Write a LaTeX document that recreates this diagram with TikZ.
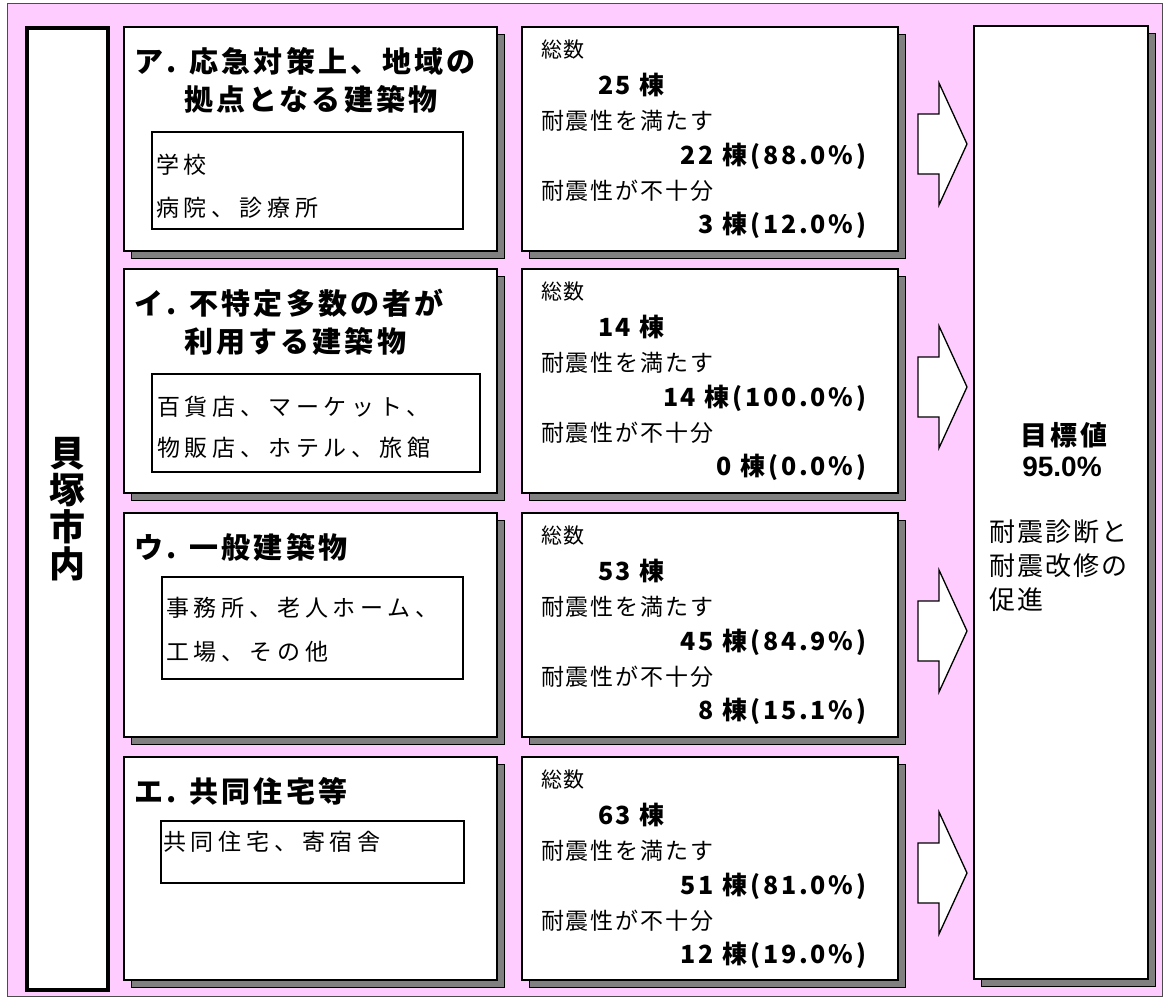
\documentclass[tikz,border=0pt]{standalone}
\usepackage{fontspec}
\setmainfont{Noto Sans CJK JP}
\newfontfamily\ttlfont[LetterSpace=11]{Noto Sans CJK JP}
\newfontfamily\bodyfont[LetterSpace=21]{Noto Sans CJK JP}
\newfontfamily\datafont[LetterSpace=8]{Noto Sans CJK JP}
\newfontfamily\smallfont[LetterSpace=5]{Noto Sans CJK JP}
\newfontfamily\numfont[LetterSpace=11]{Noto Sans CJK JP}
\newfontfamily\goalfont[LetterSpace=12]{Noto Sans CJK JP}
\newfontfamily\notefont[LetterSpace=8]{Noto Sans CJK JP}
\newfontfamily\arialfont{Liberation Sans}
\definecolor{bgpink}{RGB}{255,204,255}
\definecolor{shgray}{RGB}{128,128,128}
\newcommand\shadowed[5]{%
  \node[shd, minimum width=#4, minimum height=#5] (#1s) at (#2+7,#3+7) {};
  \node[box, minimum width=#4, minimum height=#5] (#1) at (#2,#3) {};
}
\begin{document}
\begin{tikzpicture}[x=1pt,y=-1pt,
  every node/.style={inner sep=0pt, outer sep=0pt},
  box/.style={draw=black, line width=1.3pt, fill=white, anchor=north west},
  shd/.style={draw=black, line width=0.8pt, fill=shgray, anchor=north west},
  inbox/.style={draw=black, line width=1.3pt, fill=white, anchor=north west},
  ttl/.style={anchor=west, font=\ttlfont\bfseries\fontsize{29}{29}\selectfont},
  body/.style={anchor=west, font=\bodyfont\fontsize{23}{23}\selectfont},
  dl/.style={anchor=west, font=\smallfont\fontsize{21}{21}\selectfont},
  dt/.style={anchor=west, font=\datafont\fontsize{23}{23}\selectfont},
  dn/.style={anchor=west, font=\numfont\bfseries\fontsize{25}{25}\selectfont},
  dr/.style={anchor=east, font=\numfont\bfseries\fontsize{25}{25}\selectfont},
  note/.style={anchor=west, font=\notefont\fontsize{26}{26}\selectfont},
  blk/.style={draw=black, line width=1.3pt, fill=white, line join=miter}
]
\useasboundingbox (0,0) rectangle (1165,998);
% background
\node[draw=black!70, line width=1pt, fill=bgpink, anchor=north west,
  minimum width=1155, minimum height=992] (bg) at (7,4) {};
% left box
\node[draw=black, line width=3.5pt, fill=white, anchor=north west,
  minimum width=81, minimum height=962] (city) at (27,28) {};
\node[align=center, font=\bfseries\fontsize{36}{37}\selectfont] (citytxt) at (67,509) {貝\\塚\\市\\内};
% category boxes
\shadowed{catA}{124}{27}{373}{224}
\shadowed{catI}{124}{269}{373}{224}
\shadowed{catU}{124}{513}{373}{224}
\shadowed{catE}{124}{757}{373}{223}
% data boxes
\shadowed{datA}{522}{27}{376}{224}
\shadowed{datI}{522}{269}{376}{224}
\shadowed{datU}{522}{513}{376}{224}
\shadowed{datE}{522}{757}{376}{223}
% goal box
\shadowed{goal}{974}{26}{174}{953}
% arrows
\foreach \c [count=\i] in {144,387,631,873}{
  \draw[blk] (918,\c-30) -- (939,\c-30) -- (939,\c-61) -- (967,\c)
     -- (939,\c+61) -- (939,\c+30) -- (918,\c+30) -- cycle;
}
% category A
\node[ttl] (tA1) at (134,61) {ア. 応急対策上、地域の};
\node[ttl] (tA2) at (184,99) {拠点となる建築物};
\node[inbox, minimum width=311, minimum height=97] (inA) at (152,132) {};
\node[body] (bA1) at (156,165) {学校};
\node[body] (bA2) at (156,208) {病院、診療所};
% category I
\node[ttl] (tI1) at (134,303) {イ. 不特定多数の者が};
\node[ttl] (tI2) at (184,341) {利用する建築物};
\node[inbox, minimum width=328, minimum height=98] (inI) at (152,374) {};
\node[body] (bI1) at (157,407) {百貨店、マーケット、};
\node[body] (bI2) at (157,448) {物販店、ホテル、旅館};
% category U
\node[ttl] (tU1) at (134,547) {ウ. 一般建築物};
\node[inbox, minimum width=301, minimum height=102] (inU) at (162,577) {};
\node[body] (bU1) at (166,608) {事務所、老人ホーム、};
\node[body] (bU2) at (166,652) {工場、その他};
% category E
\node[ttl] (tE1) at (134,791) {エ. 共同住宅等};
\node[inbox, minimum width=303, minimum height=62] (inE) at (161,821) {};
\node[body] (bE1) at (163,842) {共同住宅、寄宿舎};
% data A
\node[dl] (a1) at (541,50) {総数};
\node[dn] (a2) at (598,85) {25 棟};
\node[dt] (a3) at (541,121) {耐震性を満たす};
\node[dr] (a4) at (866,156) {22 棟(88.0\%)};
\node[dt] (a5) at (541,191) {耐震性が不十分};
\node[dr] (a6) at (866,225) {3 棟(12.0\%)};
% data I
\node[dl] (i1) at (541,292) {総数};
\node[dn] (i2) at (598,327) {14 棟};
\node[dt] (i3) at (541,363) {耐震性を満たす};
\node[dr] (i4) at (866,398) {14 棟(100.0\%)};
\node[dt] (i5) at (541,433) {耐震性が不十分};
\node[dr] (i6) at (866,467) {0 棟(0.0\%)};
% data U
\node[dl] (u1) at (541,536) {総数};
\node[dn] (u2) at (598,571) {53 棟};
\node[dt] (u3) at (541,607) {耐震性を満たす};
\node[dr] (u4) at (866,642) {45 棟(84.9\%)};
\node[dt] (u5) at (541,677) {耐震性が不十分};
\node[dr] (u6) at (866,711) {8 棟(15.1\%)};
% data E
\node[dl] (e1) at (541,780) {総数};
\node[dn] (e2) at (598,815) {63 棟};
\node[dt] (e3) at (541,851) {耐震性を満たす};
\node[dr] (e4) at (866,886) {51 棟(81.0\%)};
\node[dt] (e5) at (541,921) {耐震性が不十分};
\node[dr] (e6) at (866,955) {12 棟(19.0\%)};
% goal text
\node[font=\goalfont\bfseries\fontsize{27}{27}\selectfont] (g1) at (1064,435) {目標値};
\node[font=\arialfont\bfseries\fontsize{28}{28}\selectfont] (g2) at (1062,467) {95.0\%};
\node[note] (g3) at (989,532) {耐震診断と};
\node[note] (g4) at (989,566) {耐震改修の};
\node[note] (g5) at (989,600) {促進};
\end{tikzpicture}
\end{document}
